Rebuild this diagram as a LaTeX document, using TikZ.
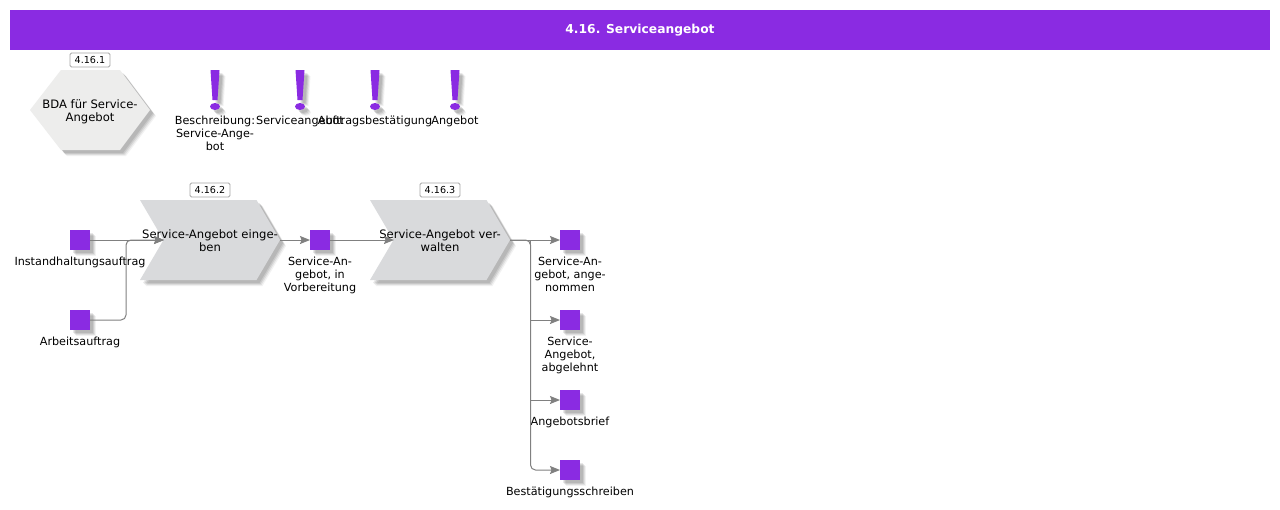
\documentclass[tikz,border=0pt]{standalone}
\usepackage{fontspec}
\setmainfont{DejaVu Sans}
\usetikzlibrary{arrows.meta}
\definecolor{violetbar}{RGB}{138,43,226}
\definecolor{hexfill}{RGB}{237,237,236}
\definecolor{chevfill}{RGB}{217,218,220}
\definecolor{linegray}{RGB}{128,128,128}
\definecolor{badgeline}{RGB}{165,165,165}
\newcommand{\softshadow}[1]{%
  \foreach \d/\o in {6/.05,5/.08,4/.09,3/.09}{\fill[black,opacity=\o,shift={(\d,\d)}] #1;}}
\newcommand{\chev}[3]{% name, left x, text
  \softshadow{(#2,200) -- ++(116.5,0) -- ++(23.5,40) -- ++(-23.5,40) -- ++(-116.5,0) -- ++(23.5,-40) -- cycle}
  \fill[chevfill] (#2,200) -- ++(116.5,0) -- ++(23.5,40) -- ++(-23.5,40) -- ++(-116.5,0) -- ++(23.5,-40) -- cycle;
  \coordinate (#1in) at ({#2+24},240);
  \coordinate (#1out) at ({#2+140},240);
  \node[lbl,shapetext,anchor=north] (#1) at ({#2+70},229.5) {#3};}
\newcommand{\sq}[3]{% name,x,y
  \softshadow{({#2-10},{#3-10}) rectangle ++(20,20)}
  \node[sqnode] (#1) at (#2,#3) {};}
\newcommand{\excl}[1]{%
  \softshadow{({#1-4.5},70) -- ({#1+4.5},70) -- ({#1+2.5},100) -- ({#1-2.5},100) -- cycle}
  \softshadow{(#1,106.5) ellipse (5 and 3.5)}
  \fill[violetbar] ({#1-4.5},70) -- ({#1+4.5},70) -- ({#1+2.5},100) -- ({#1-2.5},100) -- cycle;
  \fill[violetbar] (#1,106.5) ellipse (5 and 3.5);}
\tikzset{
  lbl/.style={font=\fontsize{11.2}{13}\selectfont,align=center,inner sep=0pt,text=black},
  shapetext/.style={font=\fontsize{11.6}{13}\selectfont},
  sqnode/.style={fill=violetbar,minimum size=20pt,inner sep=0pt,outer sep=0pt},
  badge/.style={draw=badgeline,fill=white,rounded corners=1.5pt,minimum width=40pt,minimum height=14pt,inner sep=0pt,font=\fontsize{9.6}{11}\selectfont,line width=.8pt},
  conn/.style={draw=linegray,line width=1pt,rounded corners=5pt},
  flow/.style={conn,-{Stealth[length=10pt,width=8pt,inset=1.5pt]}}
}
\begin{document}
\begin{tikzpicture}[x=1pt,y=-1pt]
\useasboundingbox (0,0) rectangle (1280,509);
\fill[white] (0,0) rectangle (1280,509);
\node[fill=violetbar,minimum width=1260pt,minimum height=40pt,inner sep=0pt,text=white,font=\fontsize{12.3}{14}\selectfont\bfseries,text height=9pt,text depth=2pt] (title) at (640,30) {4.16. Serviceangebot};
% hexagon
\softshadow{(30,110) -- (61,70) -- (120,70) -- (150,110) -- (120,150) -- (61,150) -- cycle}
\fill[hexfill] (30,110) -- (61,70) -- (120,70) -- (150,110) -- (120,150) -- (61,150) -- cycle;
\node[lbl,shapetext,anchor=north] (hex) at (90,99) {BDA für Service-\\Angebot};
\node[badge] (b1) at (90,60) {4.16.1};
% exclamation marks
\excl{215}\excl{300}\excl{375}\excl{455}
\node[lbl,anchor=north] (e1) at (215,115.4) {Beschreibung:\\Service-Ange-\\bot};
\node[lbl,anchor=north] (e2) at (300,115.4) {Serviceangebot};
\node[lbl,anchor=north] (e3) at (375,115.4) {Auftragsbestätigung};
\node[lbl,anchor=north] (e4) at (455,115.4) {Angebot};
% functions
\chev{c1}{140}{Service-Angebot einge-\\ben}
\chev{c2}{370}{Service-Angebot ver-\\walten}
\node[badge] (b2) at (210,190) {4.16.2};
\node[badge] (b3) at (440,190) {4.16.3};
% events
\sq{s1}{80}{240}\sq{s2}{80}{320}\sq{s3}{320}{240}
\sq{s4}{570}{240}\sq{s5}{570}{320}\sq{s6}{570}{400}\sq{s7}{570}{470}
\node[lbl,anchor=north] (l1) at (80,256.8) {Instandhaltungsauftrag};
\node[lbl,anchor=north] (l2) at (80,336.8) {Arbeitsauftrag};
\node[lbl,anchor=north] (l3) at (320,256.8) {Service-An-\\gebot, in\\Vorbereitung};
\node[lbl,anchor=north] (l4) at (570,256.8) {Service-An-\\gebot, ange-\\nommen};
\node[lbl,anchor=north] (l5) at (570,336.8) {Service-\\Angebot,\\abgelehnt};
\node[lbl,anchor=north] (l6) at (570,416.8) {Angebotsbrief};
\node[lbl,anchor=north] (l7) at (570,486.8) {Bestätigungsschreiben};
% connectors
\coordinate (j1) at (126,240);
\coordinate (j2) at (530.5,240);
\draw[flow] (s1.east) -- (c1in);
\draw[flow] (s2.east) -| (j1) -- (c1in);
\draw[flow] (c1out) -- (s3.west);
\draw[flow] (s3.east) -- (c2in);
\draw[flow] (c2out) -- (s4.west);
\draw[flow,sharp corners] (c2out) -- (j2) |- (s5.west);
\draw[flow,sharp corners] (c2out) -- (j2) |- (s6.west);
\draw[flow] (c2out) -- (j2) |- (s7.west);
\end{tikzpicture}
\end{document}
